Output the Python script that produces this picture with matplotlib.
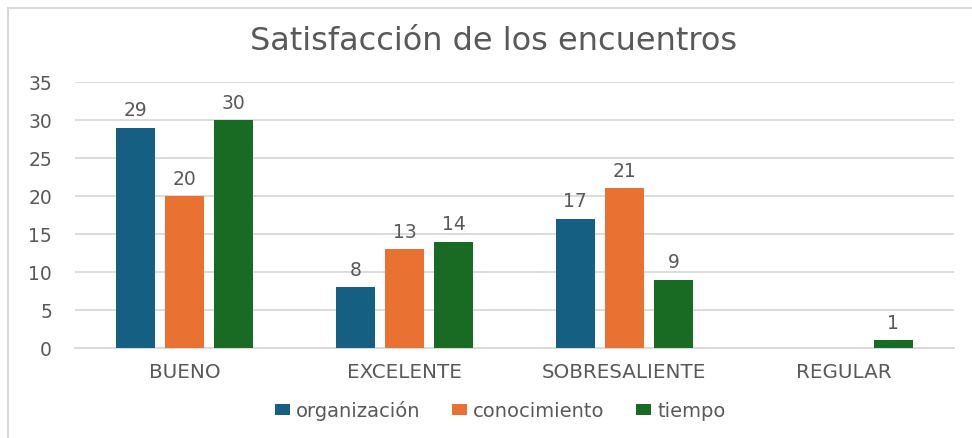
import numpy as np
import matplotlib.pyplot as plt
import matplotlib.patches as patches

categories = ["BUENO", "EXCELENTE", "SOBRESALIENTE", "REGULAR"]
series_names = ["organización", "conocimiento", "tiempo"]
organizacion = [29, 8, 17, 0]
conocimiento = [20, 13, 21, 0]
tiempo = [30, 14, 9, 1]
colors = ["#156082", "#E97132", "#196B24"]

plt.rcParams['font.family'] = ['DejaVu Sans']
text_color = "#595959"

fig = plt.figure(figsize=(9.72, 4.39), dpi=100)
ax = fig.add_axes([75 / 972, 1 - 349 / 439, (954 - 75) / 972, (349 - 83) / 439])

x = np.arange(len(categories))
width = 0.178
step = 0.223
for i, (vals, name) in enumerate(zip([organizacion, conocimiento, tiempo], series_names)):
    pos = x + (i - 1) * step
    bars = ax.bar(pos, vals, width, color=colors[i], label=name, zorder=3)
    for b, v in zip(bars, vals):
        if v == 0:
            continue
        ax.annotate(str(v), (b.get_x() + b.get_width() / 2, v), xytext=(0, 6),
                    textcoords="offset points", ha="center", va="bottom",
                    fontsize=13.5, color=text_color)

ax.set_xlim(-0.5, len(categories) - 0.5)
ax.set_ylim(0, 35)
ax.set_yticks(range(0, 36, 5))
ax.set_xticks(x)
ax.set_xticklabels(categories, fontsize=14.3)
ax.tick_params(axis="both", length=0, labelcolor=text_color)
ax.tick_params(axis="y", pad=16.5, labelsize=13.5)
ax.tick_params(axis="x", pad=10)
ax.yaxis.grid(True, color="#D9D9D9", linewidth=1.3, zorder=0)
for s in ["top", "right", "left"]:
    ax.spines[s].set_visible(False)
ax.spines["bottom"].set_color("#D9D9D9")
ax.spines["bottom"].set_linewidth(1.3)

fig.text(494 / 972, 1 - 42 / 439, "Satisfacción de los encuentros", ha="center", va="center",
         fontsize=23, color=text_color)

fig.legend(loc="center", bbox_to_anchor=(500 / 972, 1 - 411 / 439), ncol=3, frameon=False,
           fontsize=14, labelcolor=text_color, handlelength=0.8, handleheight=0.5,
           handletextpad=0.3, columnspacing=1.6)

# chart frame (cropped on right and bottom)
fig.patches.append(patches.Rectangle((8 / 972, -0.2), 1.2, 1.2 - 9 / 439,
                                     transform=fig.transFigure, fill=False,
                                     edgecolor="#D9D9D9", linewidth=1.5))

fig.savefig("out.png", dpi=100)
